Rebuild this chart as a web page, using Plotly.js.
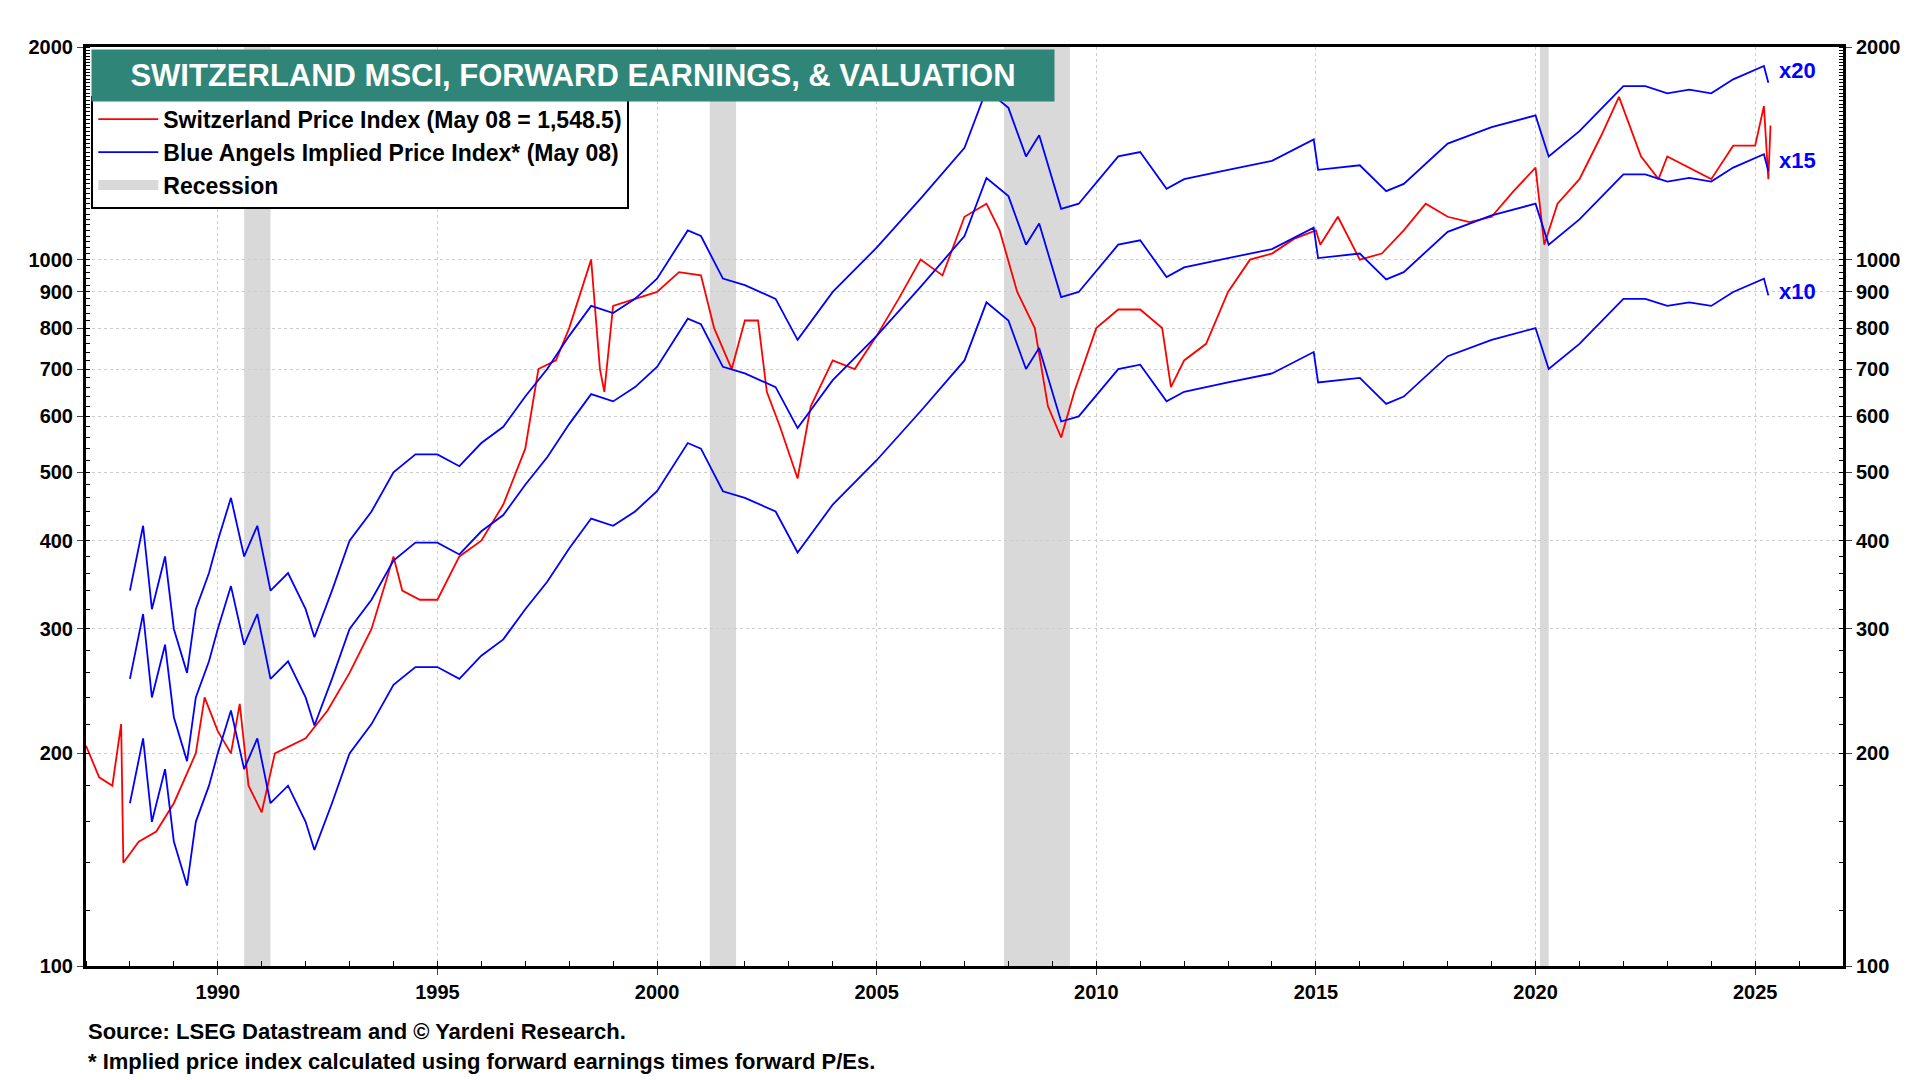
<!DOCTYPE html>
<html><head><meta charset="utf-8">
<script src="https://cdn.plot.ly/plotly-3.0.1.min.js"></script>
<style>body{margin:0;background:#fff}#chart{width:1920px;height:1080px}</style>
</head><body><div id="chart"></div>
<script>
// forward earnings (times 10 = x10 line)
var epsDates = [1988.0,1988.3,1988.5,1988.8,1989.0,1989.3,1989.5,1989.8,1990.0,1990.3,1990.6,1990.9,1991.2,1991.6,1992.0,1992.2,1992.6,1993.0,1993.5,1994.0,1994.5,1995.0,1995.5,1996.0,1996.5,1997.0,1997.5,1998.0,1998.5,1999.0,1999.5,2000.0,2000.7,2001.0,2001.5,2002.0,2002.7,2003.2,2004.0,2005.0,2006.0,2007.0,2007.5,2008.0,2008.4,2008.7,2009.2,2009.6,2010.5,2011.0,2011.6,2012.0,2013.0,2014.0,2014.95,2015.05,2016.0,2016.6,2017.0,2018.0,2019.0,2020.0,2020.3,2021.0,2022.0,2022.5,2023.0,2023.5,2024.0,2024.5,2025.2,2025.3];
var epsVals  = [17,21,16,19,15,13,16,18,20,23,19,21,17,18,16,14.6,17,20,22,25,26.5,26.5,25.5,27.5,29,32,35,39,43,42,44,47,55,54,47,46,44,38.5,45,52,61,72,87,82,70,75,59,60,70,71,63,65,67,69,74,67,68,62.5,64,73,77,80,70,76,88,88,86,87,86,90,94,89];
var peMultiples = [20, 15, 10];
// MSCI Switzerland price index
var pxDates = [1987.0,1987.3,1987.6,1987.8,1987.85,1988.2,1988.6,1989.0,1989.5,1989.7,1990.0,1990.3,1990.5,1990.7,1991.0,1991.3,1992.0,1992.5,1993.0,1993.5,1994.0,1994.2,1994.6,1995.0,1995.5,1996.0,1996.5,1997.0,1997.3,1997.7,1998.0,1998.5,1998.7,1998.8,1999.0,1999.5,2000.0,2000.5,2001.0,2001.3,2001.7,2002.0,2002.3,2002.5,2002.8,2003.2,2003.5,2004.0,2004.5,2005.0,2005.5,2006.0,2006.5,2007.0,2007.5,2007.8,2008.2,2008.6,2008.9,2009.2,2009.5,2010.0,2010.5,2011.0,2011.5,2011.7,2012.0,2012.5,2013.0,2013.5,2014.0,2014.5,2015.0,2015.1,2015.5,2016.0,2016.5,2017.0,2017.5,2018.0,2018.5,2019.0,2019.5,2020.0,2020.2,2020.5,2021.0,2021.5,2021.9,2022.4,2022.8,2023.0,2023.5,2024.0,2024.5,2025.0,2025.2,2025.3,2025.35];
var pxVals  = [205,185,180,220,140,150,155,170,200,240,215,200,235,180,165,200,210,230,260,300,380,340,330,330,380,400,450,540,700,720,800,1000,700,650,860,880,900,960,950,800,700,820,820,650,580,490,620,720,700,780,880,1000,950,1150,1200,1100,900,800,620,560,650,800,850,850,800,660,720,760,900,1000,1020,1070,1100,1050,1150,1000,1020,1100,1200,1150,1130,1150,1250,1350,1050,1200,1300,1500,1700,1400,1300,1400,1350,1300,1450,1450,1650,1300,1548.5];
var recessions = [[1990.6,1991.2],[2001.2,2001.8],[2007.9,2009.4],[2020.1,2020.3]];
var yTicks = [100,200,300,400,500,600,700,800,900,1000,2000];
var xTicks = [1990,1995,2000,2005,2010,2015,2020,2025];

var font = 'Liberation Sans, Arial, sans-serif';
var data = [];
peMultiples.forEach(function(m, i){
  data.push({x: epsDates, y: epsVals.map(function(v){return v*m;}), mode:'lines',
    line:{color:'#0000ff', width:1.8}, name:'<b>Blue Angels Implied Price Index* (May 08)</b>',
    showlegend: i == 0, legendrank: 2});
});
data.unshift({x: pxDates, y: pxVals, mode:'lines', line:{color:'#ff0000', width:1.8},
  name:'<b>Switzerland Price Index (May 08 = 1,548.5)</b>', legendrank:1});
data.push({x:[null], y:[null], mode:'lines', line:{color:'#d9d9d9', width:14},
  name:'<b>Recession</b>', legendrank:3});
data.push({x:[1987,2027], y:[100,2000], yaxis:'y2', mode:'none', showlegend:false, hoverinfo:'skip'});

var shapes = recessions.map(function(r){
  return {type:'rect', xref:'x', yref:'paper', x0:r[0], x1:r[1], y0:0, y1:1,
    fillcolor:'#d9d9d9', line:{width:0}, layer:'below'};
});

var yax = {type:'log', range:[2, Math.log10(2000)], tickvals:yTicks, ticktext:yTicks.map(function(v){return '<b>'+v+'</b>';}),
  showgrid:true, gridcolor:'#cccccc', griddash:'dot', ticks:'outside', ticklen:6,
  tickfont:{family:font, size:20, color:'#000'}, showline:true, linecolor:'#000', linewidth:3,
  minor:{ticks:'inside', ticklen:4, tickcolor:'#000', showgrid:false}, zeroline:false, fixedrange:true};
var yax2 = Object.assign({}, yax, {overlaying:'y', side:'right', showgrid:false});

var labels = [['x20',1850],['x15',1380],['x10',900]].map(function(a){
  return {x:2025.5, y:Math.log10(a[1]), xref:'x', yref:'y', text:'<b>'+a[0]+'</b>', showarrow:false,
    xanchor:'left', font:{family:font, size:22, color:'#0000ff'}};
});

var layout = {
  width:1920, height:1080, paper_bgcolor:'#fff', plot_bgcolor:'#fff',
  margin:{l:86, r:77, t:47, b:114},
  font:{family:font, color:'#000'},
  xaxis:{range:[1987,2027], tickvals:xTicks, ticktext:xTicks.map(function(v){return '<b>'+v+'</b>';}), ticks:'outside', ticklen:6,
    showgrid:true, gridcolor:'#cccccc', griddash:'dot', showline:true, linecolor:'#000', linewidth:3,
    mirror:true, minor:{dtick:1, ticks:'inside', ticklen:5, tickcolor:'#000', showgrid:false},
    tickfont:{family:font, size:20}, zeroline:false},
  yaxis:yax, yaxis2:yax2,
  shapes:shapes,
  showlegend:true,
  legend:{x:0.003, y:0.947, xanchor:'left', yanchor:'top', bgcolor:'#fff', bordercolor:'#000',
    borderwidth:2, font:{family:font, size:23, color:'#000'}, tracegroupgap:0, itemwidth:60},
  annotations: labels.concat([
    {xref:'paper', yref:'paper', x:0.003, y:0.998, xanchor:'left', yanchor:'top', showarrow:false,
     text:'<b>SWITZERLAND MSCI, FORWARD EARNINGS, & VALUATION</b>', bgcolor:'#2f8577',
     font:{family:font, size:31, color:'#fff'}, borderpad:8, width:946},
    {xref:'paper', yref:'paper', x:0.0, y:-0.055, xanchor:'left', yanchor:'top', showarrow:false,
     text:'<b>Source: LSEG Datastream and © Yardeni Research.</b>', font:{family:font, size:22}},
    {xref:'paper', yref:'paper', x:0.0, y:-0.088, xanchor:'left', yanchor:'top', showarrow:false,
     text:'<b>* Implied price index calculated using forward earnings times forward P/Es.</b>', font:{family:font, size:22}}
  ])
};
Plotly.newPlot('chart', data, layout, {displayModeBar:false, staticPlot:true});
</script></body></html>
